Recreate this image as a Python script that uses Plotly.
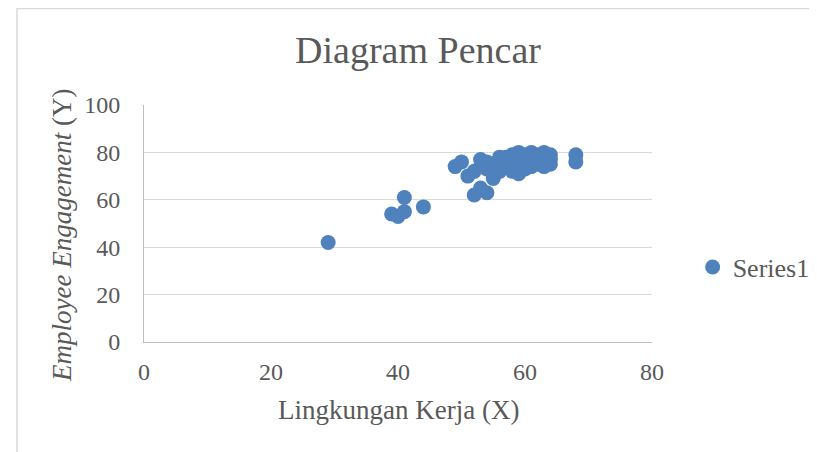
import plotly.graph_objects as go

x_vals = [29, 39, 40, 41, 41, 44, 49, 50, 51, 52, 53, 54, 53, 55, 55, 54, 56, 56, 57, 57,
          58, 58, 59, 59, 59, 59, 60, 60, 61, 61, 61, 61, 62, 62, 62, 63, 63, 63, 64, 64,
          64, 52, 53, 54, 55, 56, 57, 58, 60, 60, 68, 68]
y_vals = [42, 54, 53, 55, 61, 57, 74, 76, 70, 62, 65, 63, 77, 69, 71, 73, 75, 78, 74, 76,
          72, 77, 71, 74, 78, 80, 75, 77, 74, 76, 79, 80, 75, 77, 79, 74, 76, 80, 75, 77,
          79, 72, 74, 76, 74, 72, 78, 79, 79, 73, 79, 76]

x_ticks = [0, 20, 40, 60, 80]
y_ticks = [0, 20, 40, 60, 80, 100]

serif = "Liberation Serif, DejaVu Serif, serif"
gray = "#595959"

W, H = 809, 444
L, T, PW, PH = 136, 97, 508, 237

fig = go.Figure()
fig.add_trace(go.Scatter(
    x=x_vals, y=y_vals, mode="markers", name="Series1",
    marker=dict(color="#4F81BD", size=15, line=dict(width=0)),
    showlegend=True,
))

fig.update_layout(
    width=W, height=H,
    margin=dict(l=L, r=W - L - PW, t=T, b=H - T - PH, autoexpand=False),
    paper_bgcolor="white", plot_bgcolor="white",
    font=dict(family=serif, color=gray, size=24),
    title=dict(text="Diagram Pencar", x=410 / W, xanchor="center",
               y=1 - 42 / H, yanchor="middle",
               font=dict(size=38, family=serif, color=gray)),
    xaxis=dict(range=[0, 80], tickvals=x_ticks, showgrid=False, zeroline=False,
               showline=True, linecolor="#BFBFBF", linewidth=1, ticks="",
               tickfont=dict(size=24), ticklabelstandoff=8),
    yaxis=dict(range=[0, 100], tickvals=y_ticks, showgrid=True, gridcolor="#D9D9D9",
               zeroline=False, showline=True, linecolor="#BFBFBF", linewidth=1, ticks="",
               tickfont=dict(size=24), ticklabelstandoff=18),
    legend=dict(x=1.08, y=0.316, xanchor="left", yanchor="middle",
                font=dict(size=26, color=gray), itemwidth=30),
)

# axis titles placed as annotations for exact positioning
fig.add_annotation(text="Lingkungan Kerja (X)", xref="paper", yref="paper",
                   x=(390 - L) / PW, y=-(402 - T - PH) / PH, xanchor="center", yanchor="middle",
                   showarrow=False, font=dict(size=27, family=serif, color=gray))
fig.add_annotation(text="<i>Employee Engagement</i> (Y)", xref="paper", yref="paper",
                   x=(54 - L) / PW, y=1 - (228 - T) / PH, xanchor="center", yanchor="middle",
                   textangle=-90, showarrow=False, font=dict(size=27, family=serif, color=gray))

fig.add_shape(type="rect", xref="paper", yref="paper",
              x0=(9 - L) / PW, x1=1.5, y0=-0.6, y1=1 + (T - 0.5) / PH,
              line=dict(color="#D9D9D9", width=1.5), fillcolor="rgba(0,0,0,0)", layer="below")

fig.write_html("out.html")
